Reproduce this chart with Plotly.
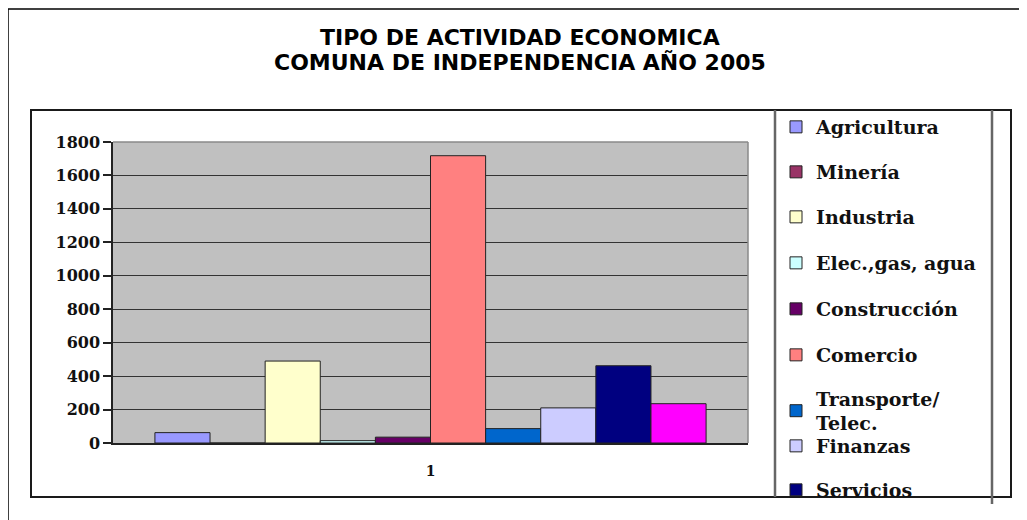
import plotly.graph_objects as go

# ---- data ----
category = ["1"]
series_names = ["Agricultura", "Minería", "Industria", "Elec.,gas, agua", "Construcción",
                "Comercio", "Transporte/<br>Telec.", "Finanzas", "Servicios", "Otros"]
series_values = [62, 0, 490, 14, 35, 1718, 86, 210, 462, 235]
series_colors = ["#9999FF", "#993366", "#FFFFCC", "#CCFFFF", "#660066",
                 "#FF8080", "#0066CC", "#CCCCFF", "#000080", "#FF00FF"]
y_ticks = [0, 200, 400, 600, 800, 1000, 1200, 1400, 1600, 1800]
title_lines = ["TIPO DE ACTIVIDAD ECONOMICA", "COMUNA DE INDEPENDENCIA AÑO 2005"]

# ---- layout geometry (page pixels; page body adds an 8px offset) ----
OFF = 8
W, H = 1027 - OFF, 520 - OFF
L, R, T, B = 113 - OFF, 748 - OFF, 142 - OFF, 443 - OFF
PW, PH = R - L, B - T


def px(x):
    return (x - OFF - L) / PW


def py(y):
    return (B - (y - OFF)) / PH


legend_y_px = [127, 172, 217, 263, 309, 355, 411, 446, 490]
legend_x_px = 776

serif = "DejaVu Serif"

fig = go.Figure()
for i, (n, v, c) in enumerate(zip(series_names, series_values, series_colors)):
    kw = {}
    if i < len(legend_y_px):
        kw["legend"] = "legend" if i == 0 else f"legend{i+1}"
    else:
        kw["showlegend"] = False
    fig.add_trace(go.Bar(
        x=category, y=[v], name=n,
        marker=dict(color=c, line=dict(color="#222222", width=1)), **kw,
    ))

layout_legends = {}
for i in range(len(legend_y_px)):
    key = "legend" if i == 0 else f"legend{i+1}"
    layout_legends[key] = dict(
        x=px(legend_x_px), y=py(legend_y_px[i]), xanchor="left", yanchor="middle",
        bgcolor="rgba(0,0,0,0)", borderwidth=0, itemwidth=30,
        font=dict(family=serif, size=19, color="#111111", weight="bold"),
    )

shapes = [
    # outer page border
    dict(type="line", xref="paper", yref="paper", x0=px(8), x1=px(1040), y0=py(9), y1=py(9),
         line=dict(color="#000000", width=1.5)),
    dict(type="line", xref="paper", yref="paper", x0=px(8), x1=px(8), y0=py(9), y1=py(530),
         line=dict(color="#000000", width=1.5)),
    # inner chart frame
    dict(type="rect", xref="paper", yref="paper", x0=px(31), x1=px(1011), y0=py(110), y1=py(497),
         line=dict(color="#1a1a1a", width=2)),
    # legend box sides
    dict(type="line", xref="paper", yref="paper", x0=px(775), x1=px(775), y0=py(110), y1=py(497),
         line=dict(color="#666666", width=2.5)),
    dict(type="line", xref="paper", yref="paper", x0=px(992), x1=px(992), y0=py(110), y1=py(504),
         line=dict(color="#666666", width=2.5)),
    # plot area top & right border
    dict(type="line", xref="paper", yref="paper", x0=0, x1=1, y0=1, y1=1,
         line=dict(color="#8a8a8a", width=1.5)),
    dict(type="line", xref="paper", yref="paper", x0=1, x1=1, y0=0, y1=1,
         line=dict(color="#8a8a8a", width=1.5)),
]

annotations = [
    dict(text=t, xref="paper", yref="paper", x=px(520), y=py(yc), xanchor="center", yanchor="middle",
         showarrow=False, font=dict(family="DejaVu Sans", size=22, color="#000000", weight="bold"))
    for t, yc in zip(title_lines, [38, 62])
]

fig.update_layout(
    width=W, height=H,
    margin=dict(l=L, r=W - R, t=T, b=H - B, autoexpand=False, pad=0),
    paper_bgcolor="#FFFFFF", plot_bgcolor="#C0C0C0",
    barmode="group", bargap=0.132, bargroupgap=0,
    xaxis=dict(type="category", range=[-0.5, 0.5], showgrid=False, showline=True,
               linecolor="#222222", linewidth=1.5, ticks="", ticklabelstandoff=14,
               tickfont=dict(family=serif, size=14, color="#111111", weight="bold"),
               fixedrange=True),
    yaxis=dict(range=[0, 1800], tickvals=y_ticks, showgrid=True, gridcolor="#333333", gridwidth=1,
               showline=True, linecolor="#222222", linewidth=1.5, ticks="outside", ticklen=8,
               tickcolor="#222222", tickwidth=1.5, zeroline=False,
               tickfont=dict(family=serif, size=16, color="#111111", weight="bold"),
               fixedrange=True),
    shapes=shapes,
    annotations=annotations,
    **layout_legends,
)

fig.write_html("out.html")
